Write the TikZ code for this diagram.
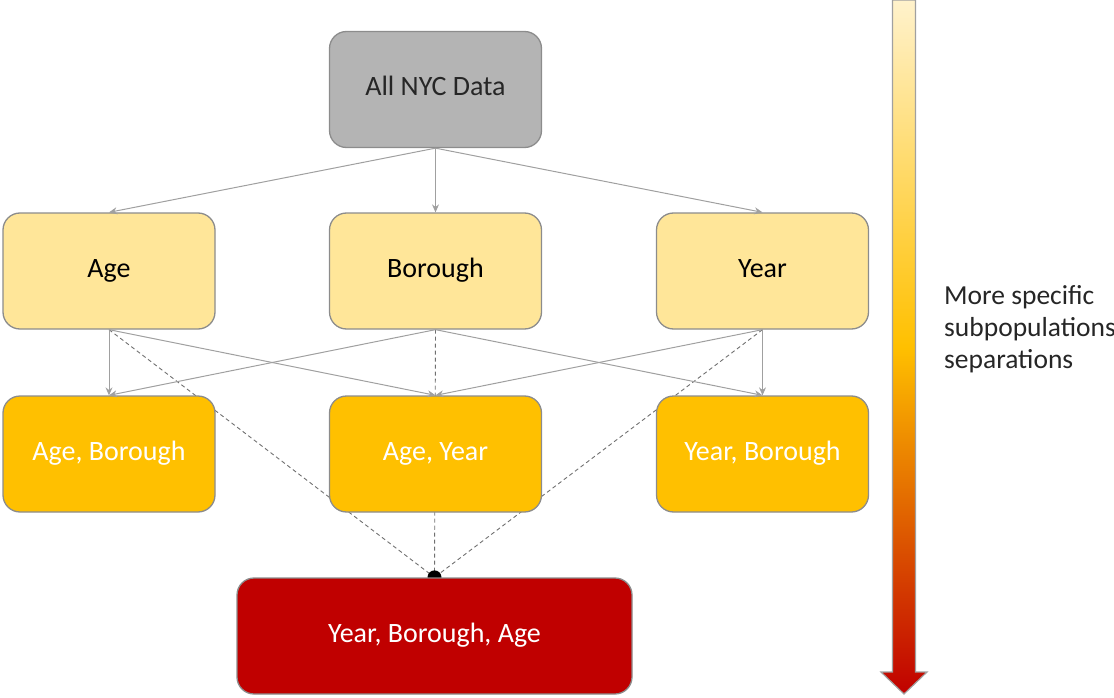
\documentclass[tikz,border=0pt]{standalone}
\usepackage{fontspec}
\setmainfont{Carlito}
\usetikzlibrary{arrows.meta}
\definecolor{topfill}{HTML}{B4B4B4}
\definecolor{lightfill}{HTML}{FFE699}
\definecolor{midfill}{HTML}{FFC000}
\definecolor{darkfill}{HTML}{C00000}
\definecolor{boxline}{HTML}{8C8C8C}
\definecolor{linegray}{HTML}{A0A0A0}
\definecolor{dashgray}{HTML}{707070}
\definecolor{grtop}{HTML}{FFF2CC}
\pgfdeclarelayer{background}
\pgfsetlayers{background,main}
\begin{document}
\begin{tikzpicture}[x=1pt,y=-1pt,
  box/.style={draw=boxline, line width=1.3pt, rounded corners=17pt, minimum width=212pt, minimum height=116pt, inner sep=0pt, text height=1.4em, text depth=0.1em, font=\fontsize{28}{32}\selectfont},
  topbox/.style={box, fill=topfill, text=black!85},
  lightbox/.style={box, fill=lightfill, text=black},
  midbox/.style={box, fill=midfill, text=white},
  darkbox/.style={box, fill=darkfill, text=white, minimum width=395pt},
  conn/.style={draw=linegray, line width=1pt, -{Stealth[length=8pt,width=7pt]}},
  dashconn/.style={draw=dashgray, line width=0.9pt, dash pattern=on 4pt off 3pt},
  sidetext/.style={font=\fontsize{27.5}{32}\selectfont, align=left, anchor=west, inner sep=0pt, text=black!85}
]
\useasboundingbox (0,0) rectangle (1114,698);

\node[topbox] (all) at (435.5,89.5) {All NYC Data};
\node[lightbox] (age) at (109,271) {Age};
\node[lightbox] (borough) at (435.5,271) {Borough};
\node[lightbox] (year) at (762.5,271) {Year};
\node[midbox] (ab) at (109,454) {Age, Borough};
\node[midbox] (ay) at (435.5,454) {Age, Year};
\node[midbox] (yb) at (762.5,454) {Year, Borough};
\node[darkbox] (yba) at (434.5,636) {Year, Borough, Age};

\begin{pgfonlayer}{background}
  \draw[dashconn] (age.south) -- (yba.north);
  \draw[dashconn] (borough.south) -- (yba.north);
  \draw[dashconn] (year.south) -- (yba.north);
  \fill[black] (yba.north) circle (7pt);
\end{pgfonlayer}

\draw[conn] (all.south) -- (age.north);
\draw[conn] (all.south) -- (borough.north);
\draw[conn] (all.south) -- (year.north);

\draw[conn] (age.south) -- (ab.north);
\draw[conn] (age.south) -- (ay.north);
\draw[conn] (borough.south) -- (ab.north);
\draw[conn] (borough.south) -- (yb.north);
\draw[conn] (year.south) -- (ay.north);
\draw[conn] (year.south) -- (yb.north);

% gradient arrow
\path[draw=linegray, line width=1.2pt, top color=grtop, bottom color=darkfill, middle color=midfill]
  (892.5,0) -- (915.5,0) -- (915.5,672) -- (927,672) -- (904,694) -- (881,672) -- (892.5,672) -- cycle;

\node[sidetext] (side) at (944,329) {More specific\\subpopulations\\separations};
\end{tikzpicture}
\end{document}
